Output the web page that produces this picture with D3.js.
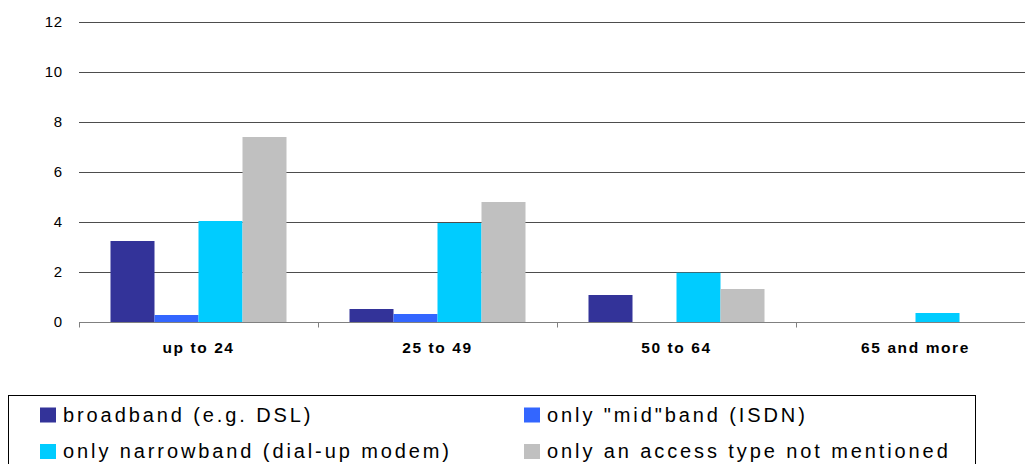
<!DOCTYPE html>
<html>
<head>
<meta charset="utf-8">
<script src="https://cdn.jsdelivr.net/npm/d3@7/dist/d3.min.js"></script>
<style>
  html, body { margin: 0; padding: 0; background: #fff; }
  svg { display: block; font-family: "Liberation Sans", Arial, sans-serif; }
</style>
</head>
<body>
<svg id="chart" width="1025" height="464"></svg>
<script>
const categories = ["up to 24", "25 to 49", "50 to 64", "65 and more"];
const seriesNames = ["broadband (e.g. DSL)", "only \"mid\"band (ISDN)", "only narrowband (dial-up modem)", "only an access type not mentioned"];
const broadband = [3.24, 0.52, 1.08, 0];
const midband = [0.28, 0.32, 0, 0];
const narrowband = [4.04, 3.96, 1.97, 0.36];
const otherType = [7.4, 4.8, 1.32, 0];
const yTicks = [0, 2, 4, 6, 8, 10, 12];
const colors = ["#333399", "#3366FF", "#00CCFF", "#C0C0C0"];

const seriesValues = [broadband, midband, narrowband, otherType];

const svg = d3.select("#chart");
const x0 = d3.scaleBand().domain(categories).range([79, 1035]).paddingInner(0).paddingOuter(0);
const x1 = d3.scaleBand().domain(d3.range(seriesNames.length)).range([31.5, x0.bandwidth() - 31.5]).padding(0);
const y = d3.scaleLinear().domain([0, 12]).range([322, 22]);

// gridlines
svg.append("g").selectAll("line").data(yTicks.filter(d => d > 0)).join("line")
  .attr("x1", 79).attr("x2", 1035)
  .attr("y1", d => Math.round(y(d)) + 0.5).attr("y2", d => Math.round(y(d)) + 0.5)
  .attr("stroke", "#4d4d4d").attr("stroke-width", 1);

// y labels
svg.append("g").selectAll("text").data(yTicks).join("text")
  .attr("x", 63).attr("y", d => y(d))
  .attr("dy", "0.35em")
  .attr("text-anchor", "end")
  .attr("font-size", 15)
  .attr("letter-spacing", 0.8)
  .attr("fill", "#000")
  .text(d => d);

// bars
const groups = svg.append("g").selectAll("g").data(categories).join("g")
  .attr("transform", d => `translate(${x0(d)},0)`);
groups.selectAll("rect").data((c, ci) => seriesValues.map((s, si) => ({ si, v: s[ci] })).filter(d => d.v > 0)).join("rect")
  .attr("x", d => x1(d.si))
  .attr("width", x1.bandwidth())
  .attr("y", d => y(d.v))
  .attr("height", d => y(0) - y(d.v))
  .attr("fill", d => colors[d.si]);

// x axis baseline and ticks
const axisY = Math.round(y(0)) + 0.5;
svg.append("line").attr("x1", 79).attr("x2", 1035).attr("y1", axisY).attr("y2", axisY)
  .attr("stroke", "#808080").attr("stroke-width", 1);
svg.append("g").selectAll("line").data(categories).join("line")
  .attr("x1", d => Math.round(x0(d)) + 0.5).attr("x2", d => Math.round(x0(d)) + 0.5)
  .attr("y1", axisY).attr("y2", axisY + 5)
  .attr("stroke", "#808080").attr("stroke-width", 1);

// x labels
svg.append("g").selectAll("text").data(categories).join("text")
  .attr("x", d => x0(d) + x0.bandwidth() / 2)
  .attr("y", 352.5)
  .attr("text-anchor", "middle")
  .attr("font-size", 15.5)
  .attr("font-weight", "bold")
  .attr("letter-spacing", 1.6)
  .attr("fill", "#000")
  .text(d => d);

// legend
svg.append("rect").attr("x", 8.5).attr("y", 395.5).attr("width", 967).attr("height", 100)
  .attr("fill", "none").attr("stroke", "#000").attr("stroke-width", 1);
const legendPos = [[40, 421.5], [524, 421.5], [40, 458], [524, 458]];
const leg = svg.append("g").selectAll("g").data(seriesNames).join("g")
  .attr("transform", (d, i) => `translate(${legendPos[i][0]},${legendPos[i][1]})`);
leg.append("rect").attr("x", 0).attr("y", -14).attr("width", 16).attr("height", 15)
  .attr("fill", (d, i) => colors[i]);
leg.append("text").attr("x", 23).attr("y", 0)
  .attr("font-size", 20).attr("letter-spacing", 2.9).attr("fill", "#000")
  .text(d => d);
</script>
</body>
</html>
